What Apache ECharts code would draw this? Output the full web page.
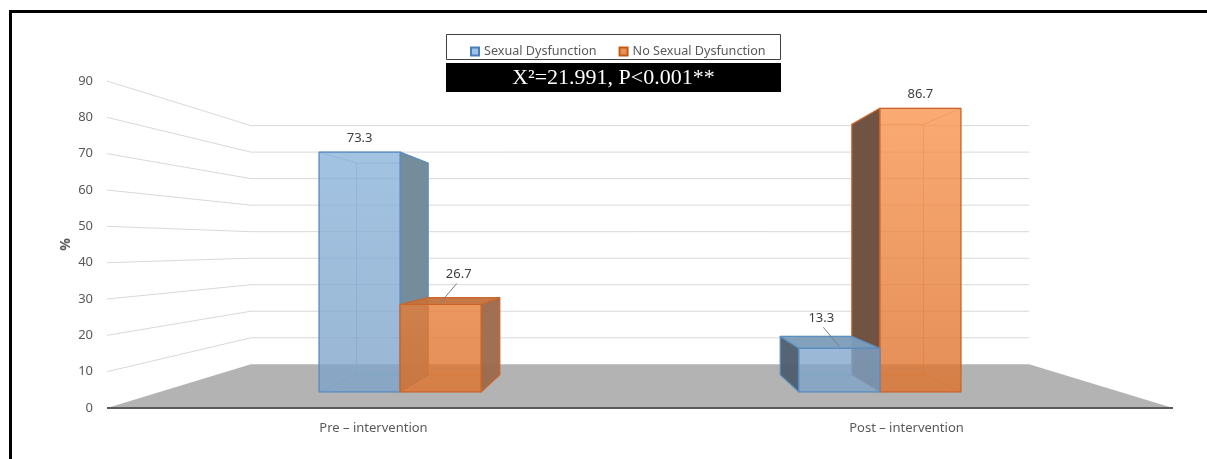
<!DOCTYPE html>
<html>
<head>
<meta charset="utf-8">
<script src="https://cdn.jsdelivr.net/npm/echarts@6/dist/echarts.min.js"></script>
<style>
  html, body { margin: 0; padding: 0; background: #ffffff; }
  #chart { width: 1207px; height: 459px; }
</style>
</head>
<body>
<div id="chart"></div>
<script>
// ---- data ----
const categories = ['Pre – intervention', 'Post – intervention'];
const seriesNames = ['Sexual Dysfunction', 'No Sexual Dysfunction'];
const sexualDysfunction = [73.3, 13.3];
const noSexualDysfunction = [26.7, 86.7];
const yTicks = [0, 10, 20, 30, 40, 50, 60, 70, 80, 90];
const statText = 'X²=21.991, P<0.001**';

// ---- perspective set-up (depth factors relative to the front plane) ----
const DEPTH_WALL = 0.73;       // back wall / far edge of the floor
const DEPTH_BAR_FRONT = 0.90;  // front faces of the boxes
const DEPTH_BAR_BACK = 0.795;  // back faces of the boxes
const VANISH_Y = 0.505;        // vanishing point height as a fraction of the plot
const BAR_FRACTION = 0.169;    // box width as a fraction of a category band

const FONT = '"Noto Sans", sans-serif';
const TEXT = '#595959';

const barStyles = [
  { // Sexual Dysfunction
    frontTop: 'rgba(140,182,222,0.78)', frontBottom: 'rgba(124,162,200,0.78)',
    sideRight: '#6f8797', sideLeft: '#4e5f6d', top: '#7c9dba',
    edge: '#5a8cc0', legend: '#9dc3e6', legendBorder: '#4a7ebb'
  },
  { // No Sexual Dysfunction
    frontTop: 'rgba(252,152,84,0.8)', frontBottom: 'rgba(220,112,42,0.8)',
    sideRight: '#9d6a4b', sideLeft: '#6b4c3c', top: '#c4733d',
    edge: '#c9652a', legend: '#e8915a', legendBorder: '#c55a11'
  }
];

function vanishing(cs) {
  return [cs.x + cs.width / 2, cs.y + cs.height * VANISH_Y];
}
function projector(vp) {
  return (x, y, k) => [vp[0] + (x - vp[0]) * k, vp[1] + (y - vp[1]) * k];
}
function seg(a, b, style, z2) {
  return { type: 'line', shape: { x1: a[0], y1: a[1], x2: b[0], y2: b[1] }, style, z2, silent: true };
}
function poly(points, style, z2) {
  return { type: 'polygon', shape: { points }, style, z2, silent: true };
}

// floor and the two walls with their perspective gridlines
function renderFloor(params, api) {
  const cs = params.coordSys;
  const P = projector(vanishing(cs));
  const y0 = api.coord([0, api.value(0)])[1];
  const xl = cs.x, xr = cs.x + cs.width;
  return {
    type: 'group',
    children: [
      poly([[xl, y0], [xr, y0], P(xr, y0, DEPTH_WALL), P(xl, y0, DEPTH_WALL)],
        { fill: '#b3b3b3', stroke: null }, 1),
      seg([xl, y0], [xr, y0], { stroke: '#5a5a5a', lineWidth: 2 }, 2)
    ]
  };
}
function renderGridline(params, api) {
  const cs = params.coordSys;
  const P = projector(vanishing(cs));
  const y = api.coord([0, api.value(0)])[1];
  return {
    type: 'polyline',
    shape: { points: [[cs.x, y], P(cs.x, y, DEPTH_WALL), P(cs.x + cs.width, y, DEPTH_WALL)] },
    style: { stroke: '#d9d9d9', lineWidth: 1, fill: null },
    silent: true
  };
}

// one translucent box per data item
function makeBarRenderer(s) {
  const st = barStyles[s];
  return function (params, api) {
    const cs = params.coordSys;
    const vp = vanishing(cs);
    const P = projector(vp);
    const idx = api.value(0);
    const val = api.value(1);
    const base = api.coord([idx, 0]);
    const topY = api.coord([idx, val])[1];
    const bw = api.size([1, 0])[0] * BAR_FRACTION;
    const xl = s === 0 ? base[0] - bw : base[0];
    const xr = xl + bw;
    const mk = k => ({
      tl: P(xl, topY, k), tr: P(xr, topY, k), br: P(xr, base[1], k), bl: P(xl, base[1], k)
    });
    const f = mk(DEPTH_BAR_FRONT);
    const b = mk(DEPTH_BAR_BACK);

    // boxes further from the vanishing line are painted first
    const z = (2000 - Math.round(Math.abs((xl + xr) / 2 - vp[0]))) * 10;
    const children = [];

    const faint = { stroke: st.edge, lineWidth: 1, opacity: 0.45 };
    [[f.tl, f.tr], [f.tr, f.br], [f.br, f.bl], [f.bl, f.tl],
     [b.tl, b.tr], [b.tr, b.br], [b.br, b.bl], [b.bl, b.tl],
     [f.tl, b.tl], [f.tr, b.tr], [f.br, b.br], [f.bl, b.bl]]
      .forEach(e => children.push(seg(e[0], e[1], faint, z)));

    const edgeStyle = { stroke: st.edge, lineWidth: 1.2, lineJoin: 'round' };
    if (xr < vp[0]) {
      children.push(poly([f.tr, b.tr, b.br, f.br],
        Object.assign({ fill: st.sideRight, opacity: 0.96 }, edgeStyle), z + 1));
    }
    if (xl > vp[0]) {
      children.push(poly([f.tl, b.tl, b.bl, f.bl],
        Object.assign({ fill: st.sideLeft, opacity: 0.96 }, edgeStyle), z + 1));
    }
    const topVisible = topY > vp[1];
    if (topVisible) {
      children.push(poly([f.tl, f.tr, b.tr, b.tl],
        Object.assign({ fill: st.top, opacity: 0.96 }, edgeStyle), z + 2));
    }
    children.push(poly([f.tl, f.tr, f.br, f.bl], Object.assign({
      fill: {
        type: 'linear', x: 0, y: cs.y, x2: 0, y2: cs.y + cs.height, global: true,
        colorStops: [{ offset: 0, color: st.frontTop }, { offset: 1, color: st.frontBottom }]
      }
    }, edgeStyle), z + 3));

    // value label
    const cx = (f.tl[0] + f.tr[0]) / 2;
    const labelFont = '13px ' + FONT;
    const txt = val.toFixed(1);
    if (topVisible) {
      const dir = vp[0] > cx ? 1 : -1;
      const start = [cx, f.tl[1] - 2];
      const end = [cx + dir * 16, f.tl[1] - 21];
      children.push(seg(start, end, { stroke: '#7f7f7f', lineWidth: 1 }, 50000));
      children.push({
        type: 'text', z2: 50001, silent: true,
        style: { text: txt, x: end[0] + dir * 2, y: end[1] - 9, align: 'center',
                 verticalAlign: 'middle', fill: '#404040', font: labelFont }
      });
    } else {
      children.push({
        type: 'text', z2: 50001, silent: true,
        style: { text: txt, x: cx, y: f.tl[1] - 14, align: 'center',
                 verticalAlign: 'middle', fill: '#404040', font: labelFont }
      });
    }
    return { type: 'group', children };
  };
}

const chart = echarts.init(document.getElementById('chart'), null, { renderer: 'canvas' });

const option = {
  animation: false,
  backgroundColor: '#ffffff',
  grid: { left: 107, right: 34, top: 81, bottom: 51, containLabel: false, outerBoundsMode: 'none' },
  legend: {
    data: seriesNames,
    left: 465, top: 40,
    icon: 'rect', itemWidth: 8, itemHeight: 8, itemGap: 22,
    textStyle: { color: TEXT, fontFamily: FONT, fontSize: 12.6 },
    selectedMode: false
  },
  xAxis: {
    type: 'category',
    data: categories,
    axisLine: { show: false },
    axisTick: { show: false },
    splitLine: { show: false },
    axisLabel: { color: TEXT, fontFamily: FONT, fontSize: 13, margin: 14 }
  },
  yAxis: {
    type: 'value',
    min: yTicks[0], max: yTicks[yTicks.length - 1], interval: 10,
    name: '%', nameLocation: 'middle', nameGap: 34, nameMoveOverlap: false,
    nameTextStyle: { color: TEXT, fontFamily: FONT, fontSize: 14, fontWeight: 'bold' },
    axisLine: { show: false },
    axisTick: { show: false },
    splitLine: { show: false },
    axisLabel: { color: TEXT, fontFamily: FONT, fontSize: 13, margin: 14 }
  },
  series: [
    {
      type: 'custom', name: 'floor', z: 1, silent: true,
      renderItem: renderFloor,
      data: [yTicks[0]], encode: { y: 0 }
    },
    {
      type: 'custom', name: 'gridlines', z: 1, silent: true,
      renderItem: renderGridline,
      data: yTicks.slice(1), encode: { y: 0 }
    },
    {
      type: 'custom', name: seriesNames[0], z: 2, silent: true,
      itemStyle: { color: barStyles[0].legend, borderColor: barStyles[0].legendBorder, borderWidth: 1 },
      renderItem: makeBarRenderer(0),
      encode: { x: 0, y: 1 },
      data: sexualDysfunction.map((v, i) => [i, v])
    },
    {
      type: 'custom', name: seriesNames[1], z: 2, silent: true,
      itemStyle: { color: barStyles[1].legend, borderColor: barStyles[1].legendBorder, borderWidth: 1 },
      renderItem: makeBarRenderer(1),
      encode: { x: 0, y: 1 },
      data: noSexualDysfunction.map((v, i) => [i, v])
    }
  ],
  graphic: [
    // outer frame (top and left edges)
    { type: 'line', shape: { x1: 9, y1: 11.5, x2: 1207, y2: 11.5 }, style: { stroke: '#000', lineWidth: 3 }, silent: true },
    { type: 'line', shape: { x1: 10.5, y1: 10, x2: 10.5, y2: 459 }, style: { stroke: '#000', lineWidth: 3 }, silent: true },
    // legend frame
    { type: 'rect', shape: { x: 446.5, y: 34.5, width: 334, height: 25 },
      style: { fill: '#ffffff', stroke: '#404040', lineWidth: 1 }, z: -1, silent: true },
    // test statistic banner
    { type: 'rect', shape: { x: 446, y: 63, width: 335, height: 29 }, style: { fill: '#000000' }, silent: true },
    { type: 'text', x: 613.5, y: 78, silent: true,
      style: { text: statText, align: 'center', verticalAlign: 'middle', fill: '#ffffff',
               font: '22px "Liberation Serif", "Times New Roman", serif' } }
  ]
};

chart.setOption(option);
</script>
</body>
</html>
